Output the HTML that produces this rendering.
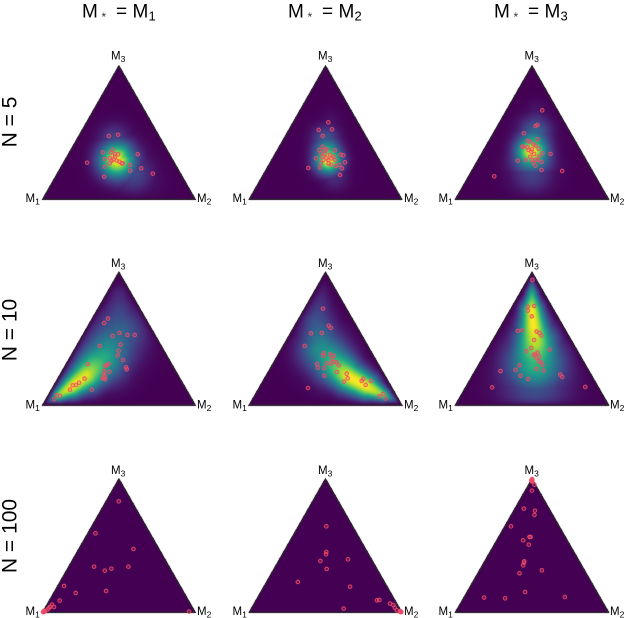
<!DOCTYPE html>
<html>
<head>
<meta charset="utf-8">
<style>
html,body{margin:0;padding:0;background:#fff;}
#figure{position:relative;width:626px;height:618px;overflow:hidden;background:#fff;}
#figure canvas{position:absolute;left:0;top:0;}
#figure svg{position:absolute;left:0;top:0;}
text{font-family:"Liberation Sans",sans-serif;fill:#000;}
.t{font-size:19px;}
.r{font-size:21px;}
.s{font-size:13px;}
.l{font-size:11.5px;}
.u{font-size:8.5px;}
.a{font-size:12px;fill:#333;}
.frame{fill:none;stroke:#2a2a2a;stroke-width:1.2;stroke-linejoin:miter;}
</style>
</head>
<body>
<div id="figure">
<canvas id="heat" width="626" height="618"></canvas>
<svg id="plot" width="626" height="618" viewBox="0 0 626 618">
  <g>
    <g><text class="t" x="82" y="17.5">M</text><text class="a" x="101.5" y="21">*</text><text class="t" x="116" y="17.5">=</text><text class="t" x="132.5" y="17.5">M</text><text class="s" x="148.5" y="20.5">1</text></g>
    <g><text class="t" x="288" y="17.5">M</text><text class="a" x="307.5" y="21">*</text><text class="t" x="322" y="17.5">=</text><text class="t" x="338.5" y="17.5">M</text><text class="s" x="354.5" y="20.5">2</text></g>
    <g><text class="t" x="494" y="17.5">M</text><text class="a" x="513.5" y="21">*</text><text class="t" x="528" y="17.5">=</text><text class="t" x="544.5" y="17.5">M</text><text class="s" x="560.5" y="20.5">3</text></g>
  </g>
  <g>
    <text class="r" text-anchor="middle" transform="translate(16.5,122) rotate(-90)">N = 5</text>
    <text class="r" text-anchor="middle" transform="translate(16.5,330) rotate(-90)">N = 10</text>
    <text class="r" text-anchor="middle" transform="translate(16.5,536) rotate(-90)">N = 100</text>
  </g>
  <g>
    <!-- row 1 -->
    <text class="l" x="111" y="59.5">M<tspan class="u" dy="2.5">3</tspan></text>
    <text class="l" x="25.5" y="202">M<tspan class="u" dy="2.5">1</tspan></text>
    <text class="l" x="197" y="202">M<tspan class="u" dy="2.5">2</tspan></text>
    <text class="l" x="318" y="59.5">M<tspan class="u" dy="2.5">3</tspan></text>
    <text class="l" x="232.5" y="202">M<tspan class="u" dy="2.5">1</tspan></text>
    <text class="l" x="404" y="202">M<tspan class="u" dy="2.5">2</tspan></text>
    <text class="l" x="524.5" y="59.5">M<tspan class="u" dy="2.5">3</tspan></text>
    <text class="l" x="438.5" y="202">M<tspan class="u" dy="2.5">1</tspan></text>
    <text class="l" x="610" y="202">M<tspan class="u" dy="2.5">2</tspan></text>
    <!-- row 2 -->
    <text class="l" x="111" y="267">M<tspan class="u" dy="2.5">3</tspan></text>
    <text class="l" x="25.5" y="408.5">M<tspan class="u" dy="2.5">1</tspan></text>
    <text class="l" x="197" y="408.5">M<tspan class="u" dy="2.5">2</tspan></text>
    <text class="l" x="318" y="267">M<tspan class="u" dy="2.5">3</tspan></text>
    <text class="l" x="232.5" y="408.5">M<tspan class="u" dy="2.5">1</tspan></text>
    <text class="l" x="404" y="408.5">M<tspan class="u" dy="2.5">2</tspan></text>
    <text class="l" x="524.5" y="267">M<tspan class="u" dy="2.5">3</tspan></text>
    <text class="l" x="438.5" y="408.5">M<tspan class="u" dy="2.5">1</tspan></text>
    <text class="l" x="610" y="408.5">M<tspan class="u" dy="2.5">2</tspan></text>
    <!-- row 3 -->
    <text class="l" x="111" y="474">M<tspan class="u" dy="2.5">3</tspan></text>
    <text class="l" x="25.5" y="615">M<tspan class="u" dy="2.5">1</tspan></text>
    <text class="l" x="197" y="615">M<tspan class="u" dy="2.5">2</tspan></text>
    <text class="l" x="318" y="474">M<tspan class="u" dy="2.5">3</tspan></text>
    <text class="l" x="232.5" y="615">M<tspan class="u" dy="2.5">1</tspan></text>
    <text class="l" x="404" y="615">M<tspan class="u" dy="2.5">2</tspan></text>
    <text class="l" x="524.5" y="474">M<tspan class="u" dy="2.5">3</tspan></text>
    <text class="l" x="438.5" y="615">M<tspan class="u" dy="2.5">1</tspan></text>
    <text class="l" x="610" y="615">M<tspan class="u" dy="2.5">2</tspan></text>
  </g>
</svg>
</div>
<script>
// ---- sampled model weights per panel (share of M2 and share of M3) ----
const n5m1M2=[.196,.252,.275,.218,.455,.256,.271,.306,.326,.288,.314,.308,.305,.341,.384,.39,.444,.154,.285,.466,.53,.626,.318,.362,.315];
const n5m1M3=[.475,.485,.3725,.3525,.3375,.3025,.35,.3375,.3375,.3075,.3,.29,.27,.29,.27,.27,.2575,.275,.245,.215,.2325,.1925,.17,.2825,.32];
const n5m2M2=[.23,.195,.28,.244,.284,.274,.32,.378,.298,.327,.364,.284,.321,.354,.391,.432,.452,.489,.371,.386,.335,.345,.406,.444,.462,.492,.504,.27,.415,.338,.312,.386];
const n5m2M3=[.5775,.52,.525,.475,.395,.37,.375,.3675,.345,.34,.3325,.3075,.32,.3075,.32,.335,.33,.2775,.295,.27,.27,.2375,.26,.25,.2575,.2325,.1825,.235,.295,.295,.37,.3075];
const n5m3M2=[.233,.257,.248,.199,.311,.251,.268,.24,.276,.304,.322,.353,.292,.312,.344,.396,.451,.328,.385,.262,.31,.373,.391,.422,.372,.395,.452,.591,.167,.351,.247,.316];
const n5m3M3=[.6675,.5575,.55,.495,.45,.44,.4325,.395,.39,.4125,.4025,.38,.37,.375,.34,.345,.34,.32,.32,.29,.295,.295,.295,.28,.275,.2525,.22,.2125,.1725,.295,.395,.3575];
const n10m1M2=[.103,.094,.199,.232,.292,.34,.152,.283,.294,.305,.358,.142,.269,.279,.264,.405,.417,.275,.312,.283,.3,.314,.294,.175,.155,.143,.123,.121,.264,.054,.08,.055,.3];
const n10m1M3=[.651,.618,.52,.543,.528,.528,.445,.455,.41,.374,.339,.307,.302,.309,.294,.284,.269,.256,.251,.234,.201,.194,.201,.199,.168,.151,.148,.116,.116,.075,.068,.043,.219];
const n10m2M2=[.121,.222,.244,.135,.204,.141,.291,.3,.339,.368,.37,.389,.412,.437,.378,.351,.29,.31,.351,.451,.382,.521,.545,.533,.65,.647,.708,.688,.321,.836,.819,.871];
const n10m2M3=[.726,.598,.581,.54,.543,.445,.39,.372,.382,.372,.347,.324,.322,.299,.312,.314,.309,.281,.279,.249,.221,.236,.201,.176,.196,.181,.181,.151,.128,.083,.065,.048];
const n10m3M2=[.032,.102,.141,.117,.165,.128,.155,.253,.278,.299,.269,.406,.28,.26,.329,.322,.339,.365,.349,.38,.397,.418,.394,.446,.269,.26,.166,.314,.377,.57,.592,.173,.78];
const n10m3M3=[.942,.741,.746,.711,.668,.558,.563,.553,.543,.523,.49,.417,.43,.405,.384,.377,.395,.364,.357,.329,.322,.302,.271,.259,.299,.264,.256,.221,.196,.229,.211,.133,.136];
const n100m1M2=[.083,.05,.358,.166,.251,.287,.391,.041,.144,.336,.068,.032,.054,.028,.024,.023,.001,.004,.008,.958,.002,.006,.003,.012];
const n100m1M3=[.8325,.5925,.475,.3425,.3125,.3275,.3425,.1975,.145,.16,.0875,.0575,.04,.04,.03,.02,.002,.004,.002,.005,.006,.009,.012,.006];
const n100m2M2=[.183,.279,.286,.274,.449,.345,.205,.565,.793,.807,.605,.891,.918,.937,.96,.995,.99,.997,.993,.988,.985,.992];
const n100m2M3=[.645,.4525,.435,.385,.3975,.325,.2275,.1925,.09,.0925,.0275,.065,.055,.035,.015,.003,.005,.001,.002,.003,.008,.006];
const n100m3M2=[.037,.043,.058,.138,.151,.04,.208,.201,.172,.225,.258,.261,.266,.407,.272,.379,.132,.272,.657,.002,.005,.008,.004,.001,.006,.003,.0,.01];
const n100m3M3=[.9575,.9125,.7775,.7625,.73,.645,.565,.565,.54,.5075,.3825,.3725,.3525,.315,.2925,.1525,.11,.105,.115,.992,.99,.986,.995,1,.992,.988,.99,.98];

// ---- posterior-density ridge per panel: share of M2, share of M3, peak, spread ----
const n5m1RidgeM2=[.25,.34,.50,.62];
const n5m1RidgeM3=[.44,.295,.19,.13];
const n5m1RidgePeak=[.22,1,.22,.05];
const n5m1RidgeSpread=[.07,.08,.085,.08];
const n5m2RidgeM2=[.24,.275,.371,.475];
const n5m2RidgeM3=[.58,.45,.295,.17];
const n5m2RidgePeak=[.05,.28,1,.13];
const n5m2RidgeSpread=[.05,.06,.06,.06];
const n5m3RidgeM2=[.20,.27,.32,.40,.44];
const n5m3RidgeM3=[.66,.50,.3575,.2,.1];
const n5m3RidgePeak=[.06,.33,1,.2,.04];
const n5m3RidgeSpread=[.05,.07,.07,.09,.09];
const n10m1RidgeM2=[.025,.066,.121,.176,.223,.23,.093];
const n10m1RidgeM3=[.025,.075,.138,.226,.35,.54,.82];
const n10m1RidgePeak=[.4,.9,1,.95,.62,.33,.12];
const n10m1RidgeSpread=[.015,.035,.055,.075,.105,.12,.06];
const n10m2RidgeM2=[.95,.843,.70,.543,.394,.268,.134,.043];
const n10m2RidgeM3=[.033,.075,.138,.214,.314,.415,.616,.865];
const n10m2RidgePeak=[.35,.85,1,1,.7,.5,.27,.08];
const n10m2RidgeSpread=[.015,.035,.06,.07,.09,.1,.08,.04];
const n10m3RidgeM2=[.022,.08,.142,.215,.289,.364,.452];
const n10m3RidgeM3=[.955,.84,.716,.59,.465,.314,.138];
const n10m3RidgePeak=[.25,.65,1,1,.9,.65,.25];
const n10m3RidgeSpread=[.014,.03,.05,.065,.09,.125,.15];
const emptyRidge=[];

// viridis colour scale stops
const viridis=[[68,1,84],[72,36,117],[65,68,135],[53,95,141],[42,120,142],[33,145,140],[34,168,132],[68,191,112],[122,209,81],[189,223,38],[253,231,37]];

const panels=[
 {key:'n5-m1',x:42.7,w:152.4,top:66,base:199.3,m2:n5m1M2,m3:n5m1M3,r2:n5m1RidgeM2,r3:n5m1RidgeM3,rp:n5m1RidgePeak,rs:n5m1RidgeSpread},
 {key:'n5-m2',x:249.3,w:152.4,top:66,base:199.3,m2:n5m2M2,m3:n5m2M3,r2:n5m2RidgeM2,r3:n5m2RidgeM3,rp:n5m2RidgePeak,rs:n5m2RidgeSpread},
 {key:'n5-m3',x:455.5,w:153,top:66,base:199.3,m2:n5m3M2,m3:n5m3M3,r2:n5m3RidgeM2,r3:n5m3RidgeM3,rp:n5m3RidgePeak,rs:n5m3RidgeSpread},
 {key:'n10-m1',x:42.7,w:152.4,top:272.3,base:405,m2:n10m1M2,m3:n10m1M3,r2:n10m1RidgeM2,r3:n10m1RidgeM3,rp:n10m1RidgePeak,rs:n10m1RidgeSpread},
 {key:'n10-m2',x:249.3,w:152.4,top:272.3,base:405,m2:n10m2M2,m3:n10m2M3,r2:n10m2RidgeM2,r3:n10m2RidgeM3,rp:n10m2RidgePeak,rs:n10m2RidgeSpread},
 {key:'n10-m3',x:455.5,w:153,top:272.3,base:405,m2:n10m3M2,m3:n10m3M3,r2:n10m3RidgeM2,r3:n10m3RidgeM3,rp:n10m3RidgePeak,rs:n10m3RidgeSpread},
 {key:'n100-m1',x:42.7,w:152.4,top:479,base:612.3,m2:n100m1M2,m3:n100m1M3,r2:emptyRidge,r3:emptyRidge,rp:emptyRidge,rs:emptyRidge},
 {key:'n100-m2',x:249.3,w:152.4,top:479,base:612.3,m2:n100m2M2,m3:n100m2M3,r2:emptyRidge,r3:emptyRidge,rp:emptyRidge,rs:emptyRidge},
 {key:'n100-m3',x:455.5,w:153,top:479,base:612.3,m2:n100m3M2,m3:n100m3M3,r2:emptyRidge,r3:emptyRidge,rp:emptyRidge,rs:emptyRidge}
];

const NS='http://www.w3.org/2000/svg';
const svg=document.getElementById('plot');
const ctx=document.getElementById('heat').getContext('2d');
const img=ctx.createImageData(626,618);

function scaleX(p,m2,m3){return p.x+(m2+m3/2)*p.w;}
function scaleY(p,m3){return p.base-m3*(p.base-p.top);}
function colour(v){
  const t=Math.max(0,Math.min(1,v))*(viridis.length-1);
  const i=Math.min(viridis.length-2,Math.floor(t));
  const f=t-i;
  return [0,1,2].map(function(c){return viridis[i][c]+(viridis[i+1][c]-viridis[i][c])*f;});
}
function density(p,m2,m3){
  const m1=1-m2-m3;
  if(!p.r2.length) return 0;
  const aspect=(p.base-p.top)/p.w;
  const px=m2+m3/2, py=m3*aspect;
  let best=0;
  for(let i=0;i<p.r2.length-1;i++){
    const ax=p.r2[i]+p.r3[i]/2, ay=p.r3[i]*aspect;
    const bx=p.r2[i+1]+p.r3[i+1]/2, by=p.r3[i+1]*aspect;
    const dx=bx-ax, dy=by-ay;
    let u=((px-ax)*dx+(py-ay)*dy)/(dx*dx+dy*dy);
    u=Math.max(0,Math.min(1,u));
    const d2=Math.pow(px-ax-u*dx,2)+Math.pow(py-ay-u*dy,2);
    const s=p.rs[i]+(p.rs[i+1]-p.rs[i])*u;
    const peak=p.rp[i]+(p.rp[i+1]-p.rp[i])*u;
    const v=peak*Math.exp(-d2/(2*s*s));
    if(v>best) best=v;
  }
  const edge=(1-Math.exp(-m1/.025))*(1-Math.exp(-m2/.025))*(1-Math.exp(-m3/.025));
  return best*edge;
}
function drawPanel(p){
  const h=p.base-p.top;
  for(let y=Math.floor(p.top);y<=Math.ceil(p.base);y++){
    for(let x=Math.floor(p.x)-1;x<=Math.ceil(p.x+p.w)+1;x++){
      const m3=(p.base-(y+.5))/h;
      const m2=(x+.5-p.x)/p.w-m3/2;
      const m1=1-m2-m3;
      if(m1<-.004||m2<-.004||m3<-.004) continue;
      const c=colour(density(p,m2,m3));
      const k=(y*626+x)*4;
      img.data[k]=c[0];img.data[k+1]=c[1];img.data[k+2]=c[2];img.data[k+3]=255;
    }
  }
}
function drawOverlay(p){
  const g=document.createElementNS(NS,'g');
  
  
  const frame=document.createElementNS(NS,'polygon');
  frame.setAttribute('class','frame');
  frame.setAttribute('points',p.x+','+p.base+' '+(p.x+p.w)+','+p.base+' '+(p.x+p.w/2)+','+p.top);
  
  
  g.appendChild(frame);
  for(let i=0;i<p.m2.length;i++){
    const c=document.createElementNS(NS,'circle');
    c.setAttribute('cx',scaleX(p,p.m2[i],p.m3[i]));
    c.setAttribute('cy',scaleY(p,p.m3[i]));
    c.setAttribute('r',1.8);
    c.setAttribute('fill','rgba(240,70,100,.25)');
    c.setAttribute('stroke','rgba(240,75,105,.85)');
    c.setAttribute('stroke-width',1.05);
    
    
    g.appendChild(c);
  }
  svg.appendChild(g);
}
panels.forEach(drawPanel);
ctx.putImageData(img,0,0);
panels.forEach(drawOverlay);
</script>
</body>
</html>
